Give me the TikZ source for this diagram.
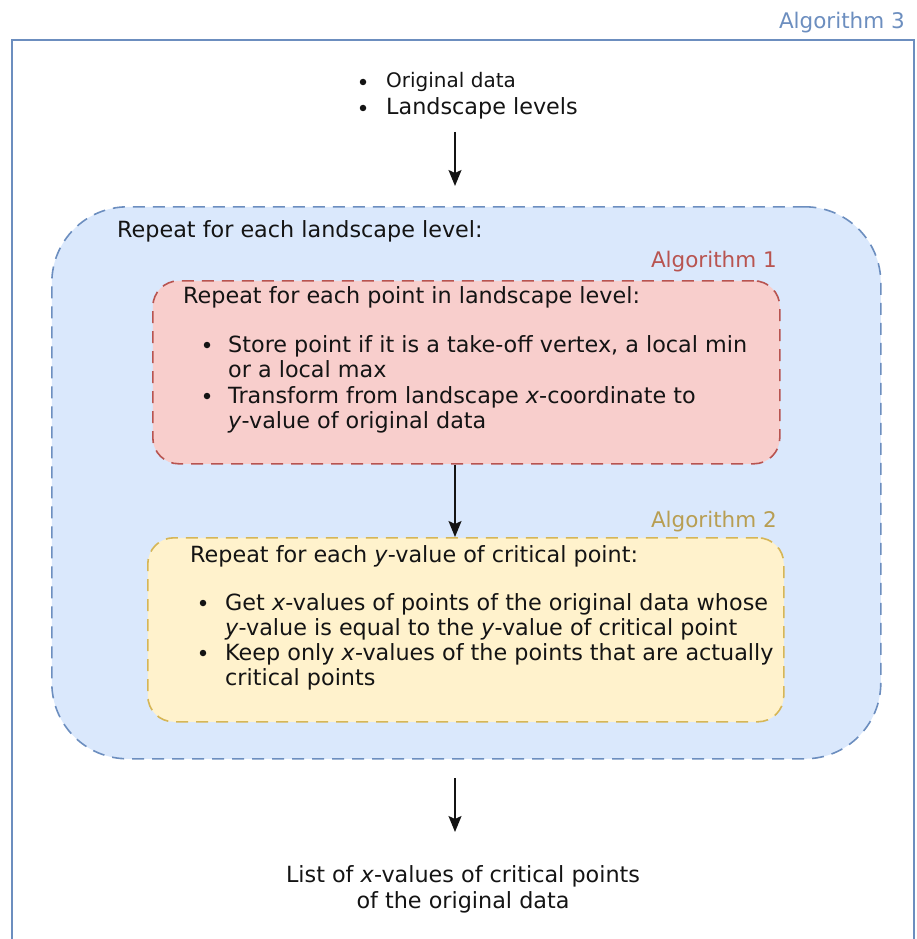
\documentclass[tikz,border=0pt]{standalone}
\usepackage{fontspec}
\setmainfont{DejaVu Sans}
\usetikzlibrary{arrows.meta}
\definecolor{bstroke}{HTML}{6C8EBF}
\definecolor{bfill}{HTML}{DAE8FC}
\definecolor{rstroke}{HTML}{B85450}
\definecolor{rfill}{HTML}{F8CECC}
\definecolor{ystroke}{HTML}{D6B656}
\definecolor{yfill}{HTML}{FFF2CC}
\definecolor{ylabel}{HTML}{B89E52}
\definecolor{ink}{HTML}{141414}
\tikzset{
  box/.style={draw, line width=1.6pt, dash pattern=on 12pt off 8pt, inner sep=0pt, anchor=north west},
  txt/.style={inner sep=0pt, anchor=base west, text=ink, font=\fontsize{22.3}{26}\selectfont},
  ctxt/.style={inner sep=0pt, anchor=base, text=ink, font=\fontsize{22.3}{26}\selectfont},
  lbl/.style={inner sep=0pt, anchor=base east, font=\fontsize{21.5}{25}\selectfont},
  bul/.style={circle, fill=ink, inner sep=0pt, minimum size=6.5pt},
  arr/.style={line width=1.6pt, ink, -{Stealth[length=16pt,width=13pt,inset=3pt]}}
}
\begin{document}
\begin{tikzpicture}[x=1pt,y=-1pt]
\useasboundingbox (0,0) rectangle (917,939);
% outer frame
\draw[bstroke, line width=1.6pt] (12,960) -- (12,40) -- (914,40) -- (914,960);
\node[lbl, text=bstroke] (l3) at (905,29) {Algorithm 3};
% input
\node[bul] (ib1) at (363,82) {};
\node[txt, font=\fontsize{20}{24}\selectfont] (i1) at (386,88) {Original data};
\node[bul] (ib2) at (363,108) {};
\node[txt] (i2) at (386,115) {Landscape levels};
\coordinate (a0) at (455,132);
\coordinate (a1) at (455,186);
\draw[arr] (a0) -- (a1);
% level box
\node[box, draw=bstroke, fill=bfill, rounded corners=76pt, minimum width=829pt, minimum height=552pt] (lvl) at (51,206) {};
\node[txt] (lt) at (117,237) {Repeat for each landscape level:};
% algorithm 1
\node[lbl, text=rstroke] (l1) at (777,267) {Algorithm 1};
\node[box, draw=rstroke, fill=rfill, rounded corners=26pt, minimum width=627pt, minimum height=183pt] (alg1) at (152,280) {};
\node[txt] (r0) at (183,303) {Repeat for each point in landscape level:};
\node[bul] (rb1) at (207,345) {};
\node[txt] (r1) at (228,352) {Store point if it is a take-off vertex, a local min};
\node[txt] (r2) at (228,377) {or a local max};
\node[bul] (rb2) at (207,396) {};
\node[txt] (r3) at (228,403) {Transform from landscape \textit{x}-coordinate to};
\node[txt] (r4) at (228,428) {\textit{y}-value of original data};
% algorithm 2
\node[lbl, text=ylabel] (l2) at (777,527) {Algorithm 2};
\node[box, draw=ystroke, fill=yfill, rounded corners=26pt, minimum width=636pt, minimum height=184pt] (alg2) at (147,537) {};
\node[txt] (y0) at (190,562) {Repeat for each \textit{y}-value of critical point:};
\node[bul] (yb1) at (203,603) {};
\node[txt] (y1) at (225,610) {Get \textit{x}-values of points of the original data whose};
\node[txt] (y2) at (225,635) {\textit{y}-value is equal to the \textit{y}-value of critical point};
\node[bul] (yb2) at (203,653) {};
\node[txt] (y3) at (225,660) {Keep only \textit{x}-values of the points that are actually};
\node[txt] (y4) at (225,685) {critical points};
\coordinate (mx) at (455,0);
\draw[arr] (alg1.south -| mx) -- (alg2.north -| mx);
% output
\coordinate (b0) at (455,778);
\coordinate (b1) at (455,832);
\draw[arr] (b0) -- (b1);
\node[ctxt] (o1) at (463,882) {List of \textit{x}-values of critical points};
\node[ctxt] (o2) at (463,908) {of the original data};
\end{tikzpicture}
\end{document}
